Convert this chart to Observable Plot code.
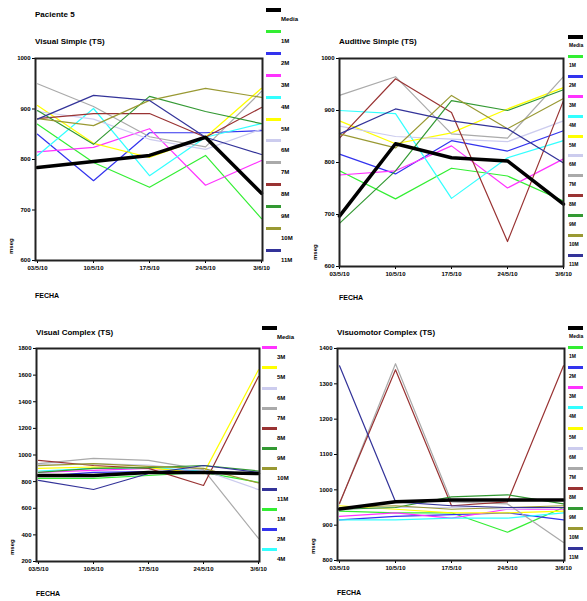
<!DOCTYPE html>
<html><head><meta charset="utf-8">
<script src="https://cdn.jsdelivr.net/npm/d3@7"></script>
<script src="https://cdn.jsdelivr.net/npm/@observablehq/plot@0.6"></script>
<style>
body{margin:0;background:#fff;font-family:"Liberation Sans",Arial,sans-serif;}
#root{position:relative;width:587px;height:601px;overflow:hidden;background:#fff;}
.t{position:absolute;font-weight:bold;font-size:8px;color:#000;white-space:nowrap;line-height:1;}
.sw{position:absolute;height:3px;width:15px;}
.lg{position:absolute;font-weight:bold;font-size:6px;color:#000;white-space:nowrap;line-height:1;}
svg{position:absolute;overflow:visible;}
</style></head><body><div id="root"></div>
<script>
// ---------- data ----------
const dates = ["03/5/10", "10/5/10", "17/5/10", "24/5/10", "3/6/10"];
const seriesNames = ["Media", "1M", "2M", "3M", "4M", "5M", "6M", "7M", "8M", "9M", "10M", "11M"];
const seriesColors = ["#000000", "#33ee33", "#3333ee", "#ff33ff", "#33ffff", "#ffff00", "#ccccee", "#aaaaaa", "#993333", "#339933", "#999933", "#333399"];

// Visual Simple (TS) – rows follow seriesNames
const visualSimple = [
  [784, 796, 808, 844, 733],
  [870, 794, 745, 808, 683],
  [850, 758, 853, 853, 857],
  [815, 824, 861, 749, 798],
  [808, 901, 768, 844, 871],
  [907, 832, 804, 844, 941],
  [895, 880, 840, 820, 860],
  [950, 905, 845, 825, 935],
  [881, 891, 891, 844, 903],
  [897, 830, 925, 895, 871],
  [881, 867, 917, 941, 923],
  [880, 927, 917, 844, 810]
];
// Auditive Simple (TS)
const auditiveSimple = [
  [697, 836, 809, 803, 720],
  [784, 730, 789, 774, 726],
  [816, 778, 842, 822, 861],
  [776, 784, 832, 751, 807],
  [900, 894, 731, 809, 842],
  [880, 836, 857, 903, 944],
  [870, 850, 845, 840, 880],
  [929, 965, 855, 847, 965],
  [847, 961, 896, 648, 919],
  [683, 784, 919, 900, 940],
  [855, 828, 929, 865, 923],
  [855, 903, 880, 865, 799]
];
// Visual Complex (TS)
const visualComplex = [
  [846, 846, 869, 869, 861],
  [824, 824, 846, 869, 794],
  [840, 870, 875, 880, 860],
  [870, 885, 900, 880, 860],
  [880, 900, 905, 880, 860],
  [900, 910, 905, 860, 1640],
  [930, 935, 925, 885, 740],
  [935, 974, 960, 890, 373],
  [959, 921, 900, 771, 1590],
  [870, 900, 905, 921, 880],
  [920, 935, 915, 900, 790],
  [809, 741, 861, 921, 869]
];
// Visuomotor Complex (TS)
const visuomotorComplex = [
  [946, 966, 971, 971, 971],
  [940, 935, 935, 880, 950],
  [915, 925, 930, 935, 915],
  [925, 935, 920, 945, 945],
  [915, 915, 920, 920, 935],
  [955, 945, 935, 935, 940],
  [945, 950, 950, 945, 950],
  [960, 1357, 966, 960, 851],
  [962, 1340, 955, 966, 1351],
  [945, 950, 980, 986, 960],
  [950, 955, 945, 950, 955],
  [1351, 966, 955, 950, 950]
];

const ticksSimple = [600, 700, 800, 900, 1000];
const ticksVisualComplex = [200, 400, 600, 800, 1000, 1200, 1400, 1600, 1800];
const ticksVisuomotor = [800, 900, 1000, 1100, 1200, 1300, 1400];

const legendTR = [0, 1, 2, 3, 4, 5, 6, 7, 8, 9, 10, 11];
const legendBL = [0, 3, 5, 6, 7, 8, 9, 10, 11, 1, 2, 4];

// ---------- layout ----------
const root = document.getElementById("root");
function text(str, x, y, cls, extra) {
  const d = document.createElement("div");
  d.className = cls; d.textContent = str;
  d.style.left = x + "px"; d.style.top = y + "px";
  if (extra) Object.assign(d.style, extra);
  root.appendChild(d);
  return d;
}

const panels = [
  {title: "Visual Simple (TS)", values: visualSimple, ticks: ticksSimple, domain: [600, 1000],
   L: 35, R: 262, T: 58, B: 260, titleY: 38, fechaY: 292,
   legend: {x: 266, y: 8, step: 21.9, order: [0,1,2,3,4,5,6,7,8,9,10,11], lx: 15}},
  {title: "Auditive Simple (TS)", values: auditiveSimple, ticks: ticksSimple, domain: [600, 1000],
   L: 339, R: 563, T: 58, B: 266, titleY: 38, fechaY: 294,
   legend: {x: 568, y: 35, step: 19.9, order: legendTR, lx: 1}},
  {title: "Visual Complex (TS)", values: visualComplex, ticks: ticksVisualComplex, domain: [200, 1800],
   L: 36, R: 259, T: 348, B: 561, titleY: 329, fechaY: 590,
   legend: {x: 262, y: 326, step: 20.2, order: legendBL, lx: 15}},
  {title: "Visuomotor Complex (TS)", values: visuomotorComplex, ticks: ticksVisuomotor, domain: [800, 1400],
   L: 337, R: 564, T: 348, B: 560, titleY: 329, fechaY: 589,
   legend: {x: 568, y: 326, step: 20.1, order: legendTR, lx: 1}}
];

text("Paciente 5", 35, 11, "t");

for (const p of panels) {
  const rows = [];
  p.values.forEach((vals, si) => vals.forEach((v, di) => rows.push({series: seriesNames[si], date: dates[di], value: v})));
  const mL = 35, mR = 6, mT = 8, mB = 18;
  const width = (p.R - p.L) + mL + mR;
  const height = (p.B - p.T) + mT + mB;
  const chart = Plot.plot({
    width, height,
    marginLeft: mL, marginRight: mR, marginTop: mT, marginBottom: mB,
    style: {fontFamily: "Liberation Sans, Arial, sans-serif", fontSize: "6px", fontWeight: "bold", background: "transparent"},
    x: {type: "point", domain: dates, padding: 0, label: null},
    y: {domain: p.domain, label: null},
    color: {domain: seriesNames, range: seriesColors},
    marks: [
      Plot.axisX({tickSize: 3, tickPadding: 2, fontSize: 6, fontWeight: "bold"}),
      Plot.axisY({ticks: p.ticks, tickSize: 3, tickPadding: 2, fontSize: 6, fontWeight: "bold", tickFormat: d => String(d)}),
      Plot.line(rows.filter(r => r.series !== "Media"), {x: "date", y: "value", z: "series", stroke: "series", strokeWidth: 1.2}),
      Plot.line(rows.filter(r => r.series === "Media"), {x: "date", y: "value", stroke: "series", strokeWidth: 3.5}),
      Plot.frame({stroke: "#222", strokeWidth: 2})
    ]
  });
  chart.style.left = (p.L - mL) + "px";
  chart.style.top = (p.T - mT) + "px";
  root.appendChild(chart);

  text(p.title, p.L, p.titleY, "t");
  text("FECHA", p.L, p.fechaY, "t", {fontSize: "7px"});
  text("mseg", p.L - 27, p.B - 6, "t", {fontSize: "6px", transform: "rotate(-90deg)", transformOrigin: "left top"});

  p.legend.order.forEach((si, i) => {
    const y = p.legend.y + i * p.legend.step;
    const sw = document.createElement("div");
    sw.className = "sw";
    sw.style.left = p.legend.x + "px";
    sw.style.top = y + "px";
    sw.style.background = seriesColors[si];
    if (si === 0) { sw.style.height = "4px"; sw.style.top = (y - 0.5) + "px"; }
    root.appendChild(sw);
    const lbl = text(seriesNames[si], p.legend.x + p.legend.lx, y + 8, "lg");
    if (p.legend.lx < 5) lbl.style.fontSize = "5px";
  });
}
</script>
</body></html>
